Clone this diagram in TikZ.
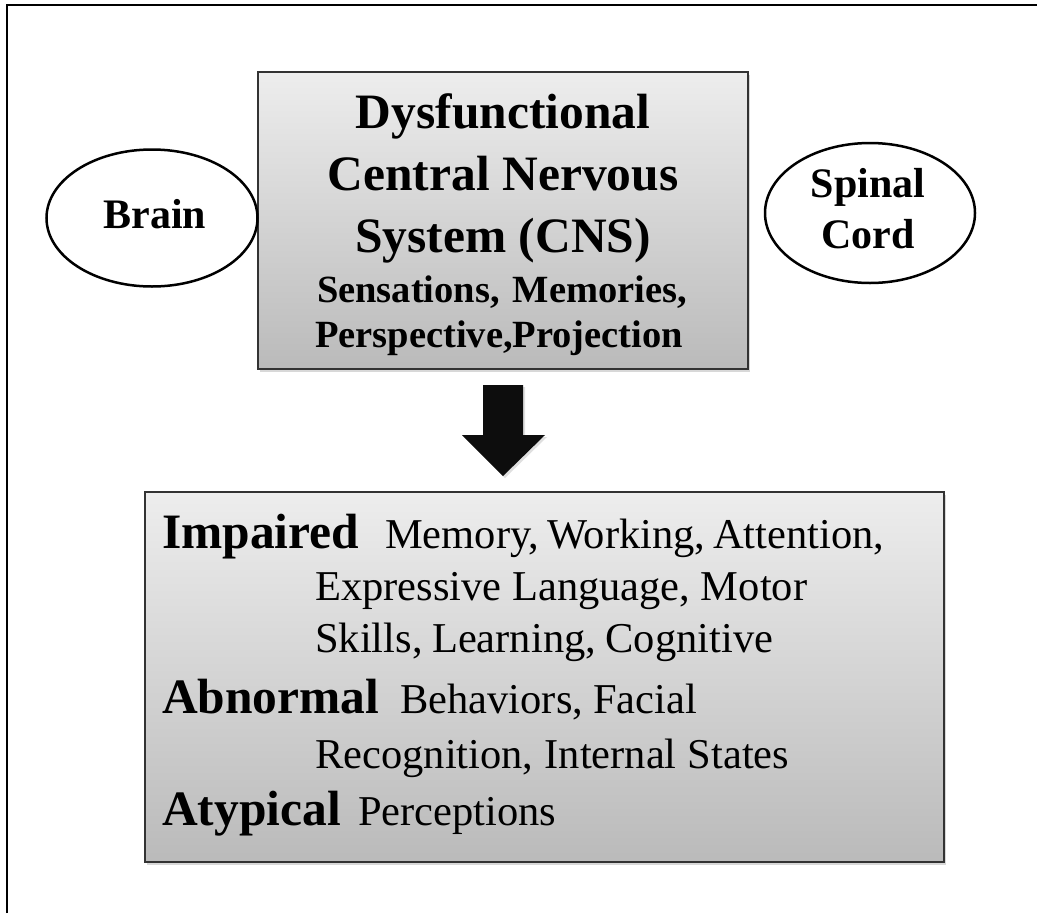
\documentclass[tikz,border=0pt]{standalone}
\usepackage{fontspec}
\setmainfont{Liberation Serif}
\usetikzlibrary{shadows,shapes.geometric}
\definecolor{boxtop}{gray}{0.93}
\definecolor{boxbot}{gray}{0.73}
\newcommand{\tbig}{\fontsize{49.5}{60}\selectfont\bfseries}
\newcommand{\tmid}{\fontsize{38.5}{46}\selectfont\bfseries}
\newcommand{\tlab}{\fontsize{42}{50}\selectfont\bfseries}
\newcommand{\treg}{\fontsize{42.5}{50}\selectfont}
\begin{document}
\begin{tikzpicture}[x=1pt,y=-1pt,
  box/.style={draw=black!80,line width=1.3pt,top color=boxtop,bottom color=boxbot,
    drop shadow={shadow xshift=1.5pt,shadow yshift=-3pt,opacity=0.3},inner sep=0pt},
  oval/.style={ellipse,draw=black,line width=2.5pt,fill=white,inner sep=0pt},
  txt/.style={inner sep=0pt,anchor=base},
  ltxt/.style={inner sep=0pt,anchor=base west}]
\useasboundingbox (0,0) rectangle (1043,913);
\fill[white] (0,0) rectangle (1043,913);
\draw[line width=1.6pt] (7,913) -- (7,5) -- (1037,5);

% top box
\node[box,minimum width=490pt,minimum height=297pt] (cns) at (503,220.5) {};
\node[txt] (t1) at (503,128) {\tbig Dysfunctional};
\node[txt] (t2) at (503,190) {\tbig Central Nervous};
\node[txt] (t3) at (503,252) {\tbig System (CNS)};
\node[txt] (t4) at (502,302) {\tmid\makebox[370pt][s]{Sensations, Memories,}};
\node[txt] (t5) at (501,347) {\tmid\makebox[372pt][s]{Perspective,Projection}};

% ovals
\node[oval,minimum width=211pt,minimum height=137pt] (brain) at (152,218) {};
\node[txt] (brainlab) at (155,228) {\tlab Brain};
\node[oval,minimum width=210pt,minimum height=140pt] (spinal) at (870,213) {};
\node[txt] (sp1) at (868,197) {\tlab Spinal};
\node[txt] (sp2) at (868,248) {\tlab Cord};

% arrow
\path[fill=black!95,drop shadow={shadow xshift=2pt,shadow yshift=-2pt,opacity=0.25}]
  (483,385) -- (523,385) -- (523,435) -- (545,435) -- (503,476) -- (462,435) -- (483,435) -- cycle;

% bottom box
\node[box,minimum width=799pt,minimum height=370pt] (out) at (544.5,677) {};
\node[ltxt] (b1) at (162,548) {\tbig Impaired};
\node[ltxt] (r1) at (385,548) {\treg\makebox[495pt][s]{Memory, Working, Attention,}};
\node[ltxt] (r2) at (315,600) {\treg\makebox[492pt][s]{Expressive Language, Motor}};
\node[ltxt] (r3) at (315,652) {\treg\makebox[458pt][s]{Skills, Learning, Cognitive}};
\node[ltxt] (b2) at (162,713) {\tbig Abnormal};
\node[ltxt] (r4) at (400,713) {\treg\makebox[297pt][s]{Behaviors, Facial}};
\node[ltxt] (r5) at (315,768) {\treg\makebox[474pt][s]{Recognition, Internal States}};
\node[ltxt] (b3) at (162,825) {\tbig Atypical};
\node[ltxt] (r6) at (358,825) {\treg Perceptions};
\end{tikzpicture}
\end{document}
